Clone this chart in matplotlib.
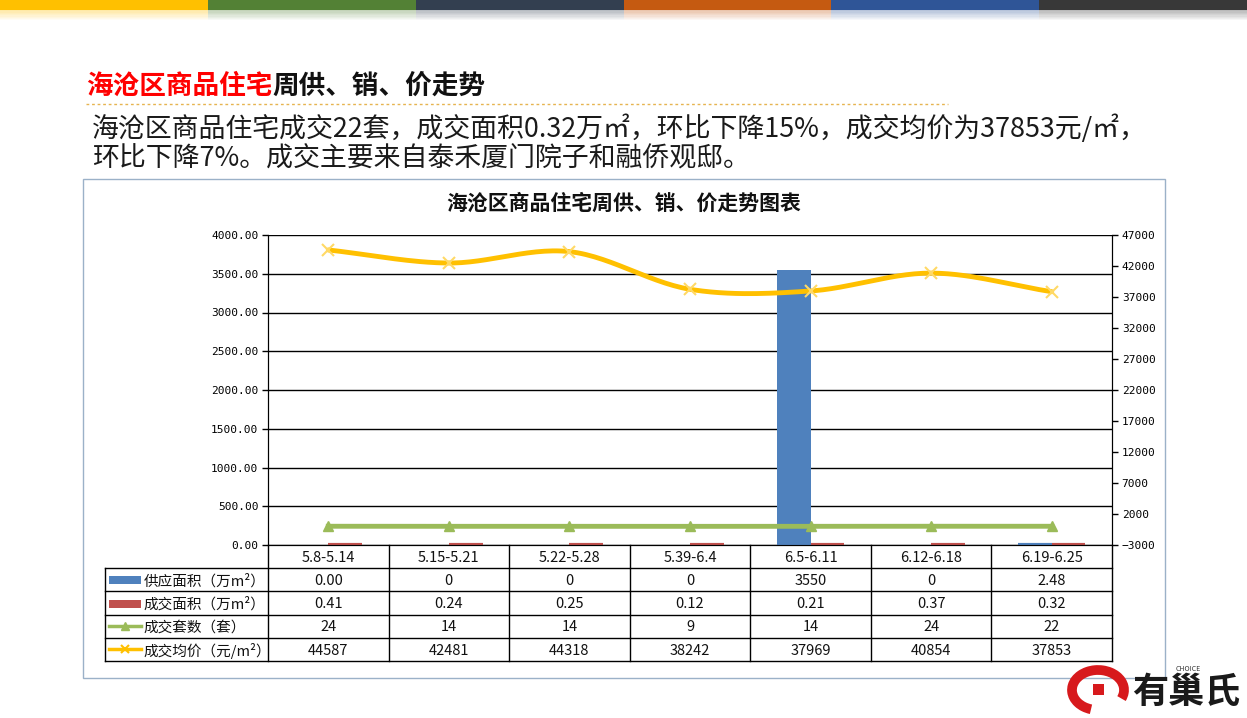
import matplotlib.pyplot as plt
from matplotlib.patches import Rectangle, Arc
import numpy as np

plt.rcParams['font.family'] = ['Noto Sans CJK SC', 'DejaVu Sans']

# Chart data
weeks = ['5.8-5.14', '5.15-5.21', '5.22-5.28', '5.39-6.4', '6.5-6.11', '6.12-6.18', '6.19-6.25']
supply_area = [0.00, 0, 0, 0, 3550, 0, 2.48]
supply_text = ['0.00', '0', '0', '0', '3550', '0', '2.48']
sold_area = [0.41, 0.24, 0.25, 0.12, 0.21, 0.37, 0.32]
sold_units = [24, 14, 14, 9, 14, 24, 22]
avg_price = [44587, 42481, 44318, 38242, 37969, 40854, 37853]
series_names = ['供应面积（万m²）', '成交面积（万m²）', '成交套数（套）', '成交均价（元/m²）']

band_colors = ['#FFC000', '#538135', '#333F50', '#C55A11', '#2F5597', '#383838']
c_blue, c_red, c_green, c_gold = '#4F81BD', '#C0504D', '#9BBB59', '#FFC000'

W, H = 1247, 718
fig = plt.figure(figsize=(W / 100, H / 100), dpi=100)

# Background layer in pixel coordinates
bg = fig.add_axes([0, 0, 1, 1])
bg.set_xlim(0, W)
bg.set_ylim(H, 0)
bg.axis('off')

# Top colour band with a soft fade
seg = W / len(band_colors)
for i, c in enumerate(band_colors):
    bg.add_patch(Rectangle((i * seg, 0), seg, 10, color=c, lw=0))
    for k in range(8):
        bg.add_patch(Rectangle((i * seg, 10 + k * 1.3), seg, 1.3, color=c,
                               alpha=0.35 * (1 - k / 8), lw=0))

# Headline
t = bg.text(86, 86, '海沧区商品住宅', color='#FF0000', fontsize=19.2,
            fontweight='bold', va='center', ha='left')
fig.canvas.draw()
bb = t.get_window_extent()
bg.text(bb.x1, 86, '周供、销、价走势', color='#111111', fontsize=19.2,
        fontweight='bold', va='center', ha='left')
bg.plot([86, 948], [104, 104], color='#E6B450', lw=1, ls=(0, (2, 2)))

bg.text(92, 129, '海沧区商品住宅成交22套，成交面积0.32万㎡，环比下降15%，成交均价为37853元/㎡，',
        fontsize=19.4, color='#1A1A1A', va='center', ha='left')
bg.text(92, 159, '环比下降7%。成交主要来自泰禾厦门院子和融侨观邸。',
        fontsize=19.4, color='#1A1A1A', va='center', ha='left')

# Chart frame and title
bg.add_patch(Rectangle((83, 179), 1082, 499, fill=False, ec='#9BB1C8', lw=1))
bg.text(624, 203, '海沧区商品住宅周供、销、价走势图表', fontsize=15,
        fontweight='bold', color='#111111', ha='center', va='center')

# Logo
bg.add_patch(Arc((1098, 690), 52, 40, theta1=110, theta2=380, color='#D7191C', lw=7))
bg.add_patch(Rectangle((1093, 684), 11, 11, color='#D7191C', lw=0))
bg.text(1188, 669, 'CHOICE', fontsize=5, style='italic', color='#333333',
        ha='center', va='center')
bg.text(1186, 692, '有巢氏', fontsize=26, fontweight='heavy', color='#1A1A1A',
        ha='center', va='center')

# Main plot area
x0, x1, y_top, y_bot = 268, 1112, 235, 545
ax = fig.add_axes([x0 / W, 1 - y_bot / H, (x1 - x0) / W, (y_bot - y_top) / H])
ax.set_facecolor('none')
x = np.arange(len(weeks))
bw = 0.28
# tiny values get an edge so they show as a stub like in the original
ax.bar(x - bw / 2, supply_area, width=bw, color=c_blue, edgecolor=c_blue,
       linewidth=[3 if 0 < v < 100 else 0 for v in supply_area], zorder=3)
ax.bar(x + bw / 2, sold_area, width=bw, color=c_red, edgecolor=c_red,
       linewidth=[3 if 0 < v < 100 else 0 for v in sold_area], zorder=3)
ax.set_xlim(-0.5, len(weeks) - 0.5)
ax.set_ylim(0, 4000)
ax.set_yticks(np.arange(0, 4001, 500))
ax.set_yticklabels(['%.2f' % v for v in np.arange(0, 4001, 500)], fontsize=8,
                   family=['DejaVu Sans Mono'])
ax.set_xticks([])
ax.grid(axis='y', color='black', lw=1, zorder=0)
ax.tick_params(axis='y', length=4, width=1, color='black', pad=3)
ax.spines['top'].set_visible(False)
for s in ['left', 'right', 'bottom']:
    ax.spines[s].set_color('black')

ax2 = ax.twinx()
ax2.set_ylim(-3000, 47000)
ax2.set_yticks(np.arange(-3000, 47001, 5000))
ax2.tick_params(axis='y', length=4, width=1, color='black', labelsize=8, pad=3)
for lab in ax2.get_yticklabels():
    lab.set_family(['DejaVu Sans Mono'])
ax2.spines['top'].set_visible(False)
ax2.spines['right'].set_color('black')

# Smoothed price line (Catmull-Rom through the data points)
px = np.array(x, float)
py = np.array(avg_price, float)
sx, sy = [], []
ext = np.concatenate([[2 * py[0] - py[1]], py, [2 * py[-1] - py[-2]]])
for i in range(len(py) - 1):
    p0, p1, p2, p3 = ext[i], ext[i + 1], ext[i + 2], ext[i + 3]
    tt = np.linspace(0, 1, 30)
    yy = 0.5 * ((2 * p1) + (-p0 + p2) * tt + (2 * p0 - 5 * p1 + 4 * p2 - p3) * tt ** 2
                + (-p0 + 3 * p1 - 3 * p2 + p3) * tt ** 3)
    sx.extend(px[i] + tt)
    sy.extend(yy)
ax2.plot(sx, sy, color=c_gold, lw=3.5, zorder=4, solid_capstyle='round')
ax2.plot(px, py, ls='none', marker='x', ms=9, mew=1.5, color='#FFD966', zorder=5)
ax2.plot(px, sold_units, color=c_green, lw=3.5, marker='^', ms=7, zorder=4)

# Data table under the plot
lab_w = (x0 - 105) / ((x1 - x0) / len(weeks))
tb = fig.add_axes([105 / W, 1 - 661 / H, (x1 - 105) / W, (661 - y_bot) / H])
xl = -0.5 - lab_w
tb.set_xlim(xl, len(weeks) - 0.5)
tb.set_ylim(5, 0)
tb.axis('off')
for r in range(1, 6):
    tb.plot([xl, len(weeks) - 0.5], [r, r], color='black', lw=1, clip_on=False)
tb.plot([xl, xl], [1, 5], color='black', lw=1, clip_on=False)
for b in np.arange(-0.5, len(weeks), 1):
    tb.plot([b, b], [0, 5], color='black', lw=1, clip_on=False)

rows = [supply_text, ['%.2f' % v for v in sold_area],
        [str(v) for v in sold_units], [str(v) for v in avg_price]]
for i, w in enumerate(weeks):
    tb.text(i, 0.55, w, ha='center', va='center', fontsize=10.5, color='#111111')
    for r, vals in enumerate(rows):
        tb.text(i, r + 1.55, vals[i], ha='center', va='center', fontsize=10.5, color='#111111')

sw0, sw1 = xl + 0.03, xl + 0.3
tb.add_patch(Rectangle((sw0, 1.35), sw1 - sw0, 0.35, color=c_blue, lw=0))
tb.add_patch(Rectangle((sw0, 2.35), sw1 - sw0, 0.35, color=c_red, lw=0))
tb.plot([sw0, sw1], [3.5, 3.5], color=c_green, lw=2.5)
tb.plot([(sw0 + sw1) / 2], [3.5], marker='^', color=c_green, ms=6)
tb.plot([sw0, sw1], [4.5, 4.5], color=c_gold, lw=2.5)
tb.plot([(sw0 + sw1) / 2], [4.5], marker='x', color=c_gold, ms=6, mew=1.5)
for r, name in enumerate(series_names):
    tb.text(sw1 + 0.02, r + 1.55, name, ha='left', va='center', fontsize=10.5, color='#111111')

fig.savefig('out.png', dpi=100)
